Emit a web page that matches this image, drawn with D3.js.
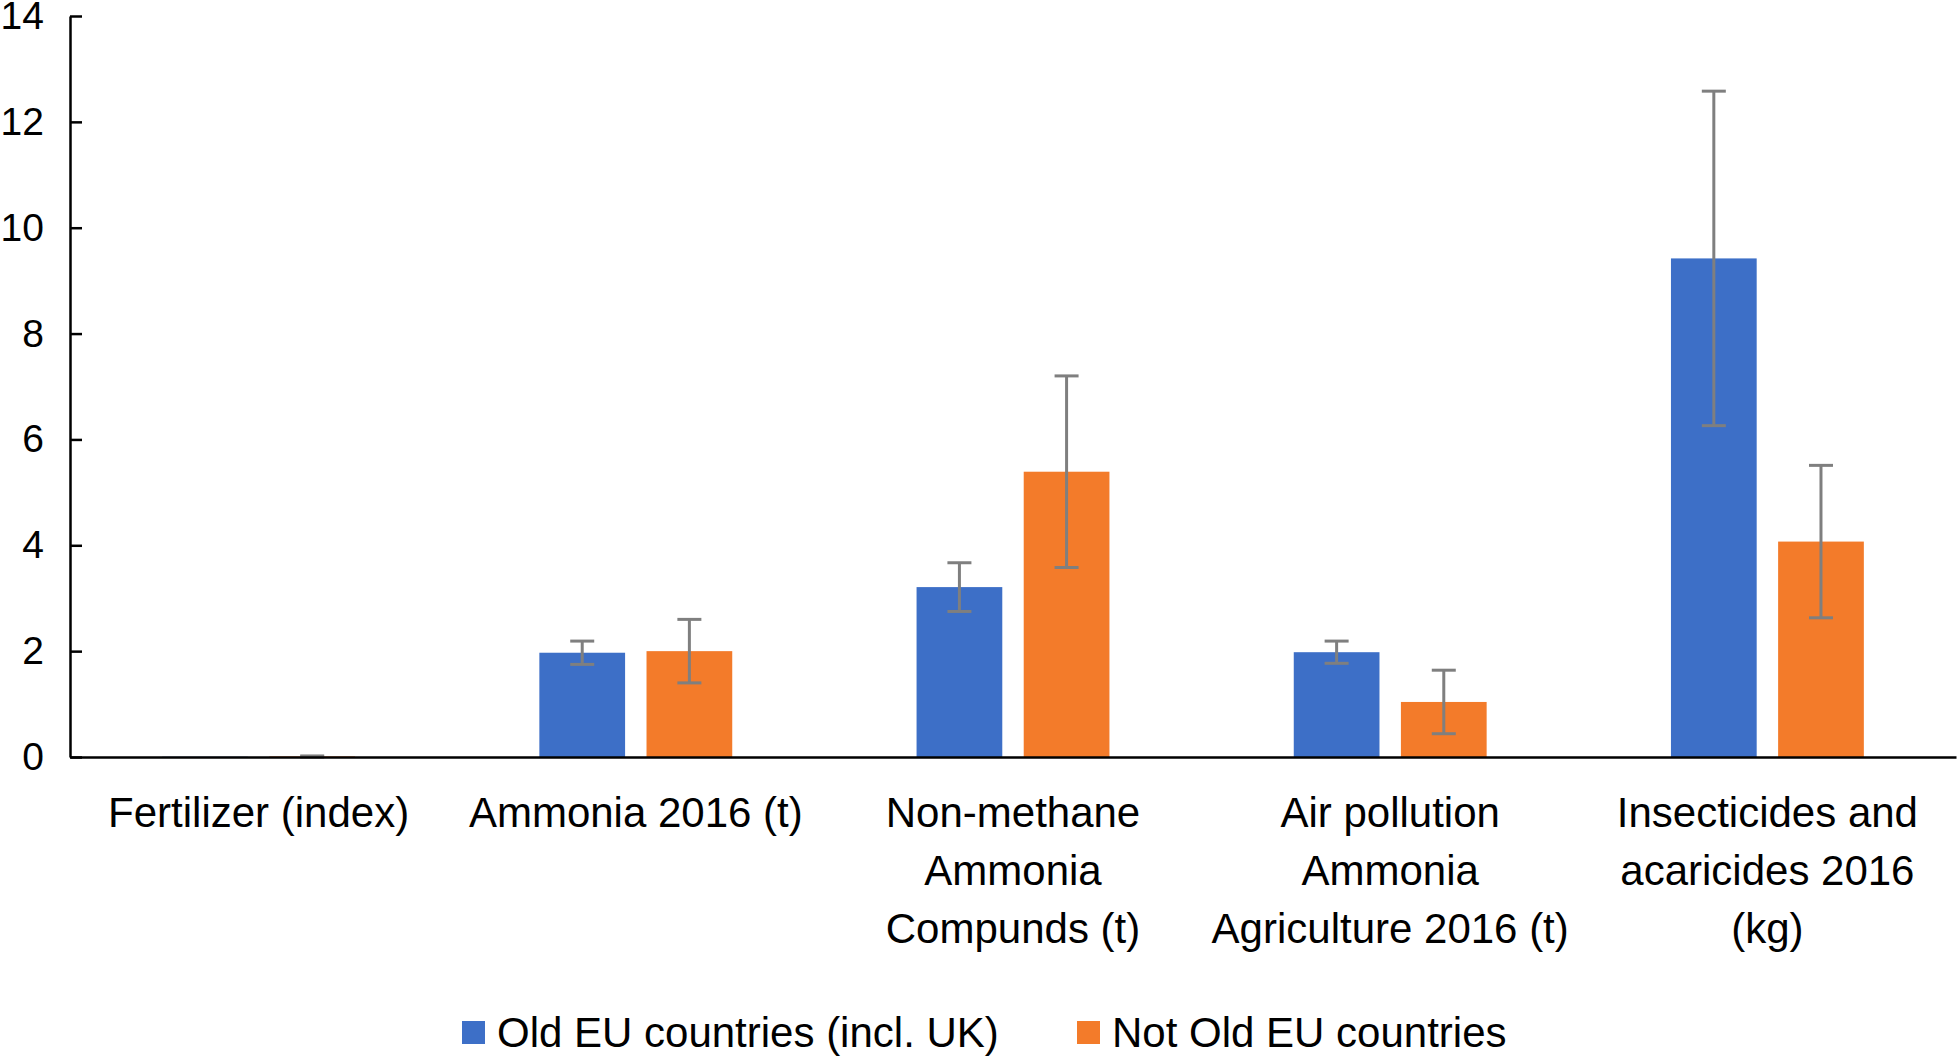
<!DOCTYPE html>
<html>
<head>
<meta charset="utf-8">
<script src="https://cdn.jsdelivr.net/npm/d3@7"></script>
<style>
  body { margin: 0; background: #fff; }
  text { font-family: "Liberation Sans", Arial, sans-serif; fill: #000; }
</style>
</head>
<body>
<svg id="chart" width="1960" height="1060"></svg>
<script>
// categories, each label split into its lines
var categories = [
    ["Fertilizer (index)"],
    ["Ammonia 2016 (t)"],
    ["Non-methane", "Ammonia", "Compunds (t)"],
    ["Air pollution", "Ammonia", "Agriculture 2016 (t)"],
    ["Insecticides and", "acaricides 2016", "(kg)"]
];
var series = ["Old EU countries (incl. UK)", "Not Old EU countries"];
var oldEU = [0.005, 1.97, 3.21, 1.98, 9.42];
var oldEUErr = [0, 0.22, 0.46, 0.21, 3.16];
var notOldEU = [0.01, 2.0, 5.39, 1.04, 4.07];
var notOldEUErr = [0.01, 0.6, 1.81, 0.6, 1.44];
var yTicks = [0, 2, 4, 6, 8, 10, 12, 14];

var colors = ["#3d6fc7", "#f37b2a"];
var FONT = 42;
var TICK_FONT = 39;

var svg = d3.select("#chart");
var plotLeft = 70, plotRight = 1956, plotTop = 16, plotBottom = 757;

var x0 = d3.scaleBand()
    .domain(d3.range(categories.length))
    .range([plotLeft, plotRight]);
var x1 = d3.scaleBand()
    .domain(d3.range(series.length))
    .range([0, x0.bandwidth()])
    .paddingInner(0.2)
    .paddingOuter(0.86);
var y = d3.scaleLinear().domain([0, 14]).range([plotBottom, plotTop]);

// build rows for bars
var rows = [];
categories.forEach(function(c, i) {
    rows.push({cat: i, s: 0, v: oldEU[i], e: oldEUErr[i]});
    rows.push({cat: i, s: 1, v: notOldEU[i], e: notOldEUErr[i]});
});

// bars
svg.append("g").selectAll("rect")
    .data(rows)
    .enter()
    .append("rect")
    .attr("x", function(d) { return x0(d.cat) + x1(d.s); })
    .attr("y", function(d) { return y(d.v); })
    .attr("width", x1.bandwidth())
    .attr("height", function(d) { return y(0) - y(d.v); })
    .attr("fill", function(d) { return colors[d.s]; });

// error bars
var errG = svg.append("g")
    .attr("stroke", "#7f7f7f")
    .attr("stroke-width", 3);
var CAP = 12;
rows.forEach(function(d) {
    if (!d.e) return;
    var cx = x0(d.cat) + x1(d.s) + x1.bandwidth() / 2;
    var hi = y(d.v + d.e), lo = y(Math.max(0, d.v - d.e));
    errG.append("line").attr("x1", cx).attr("x2", cx).attr("y1", hi).attr("y2", lo);
    errG.append("line").attr("x1", cx - CAP).attr("x2", cx + CAP).attr("y1", hi).attr("y2", hi);
    errG.append("line").attr("x1", cx - CAP).attr("x2", cx + CAP).attr("y1", lo).attr("y2", lo);
});

// y axis, ticks pointing inwards
var yAxis = svg.append("g")
    .attr("transform", "translate(" + plotLeft + ",0)")
    .call(d3.axisLeft(y).tickValues(yTicks).tickSizeInner(-12).tickSizeOuter(0).tickPadding(26));
yAxis.selectAll("path, line").attr("stroke", "#000").attr("stroke-width", 2.5);
yAxis.selectAll("text")
    .style("font-size", TICK_FONT + "px")
    .style("font-family", "Liberation Sans, Arial, sans-serif")
    .attr("fill", "#000");

// x axis line
var xAxis = svg.append("g")
    .attr("transform", "translate(0," + plotBottom + ")")
    .call(d3.axisBottom(x0).tickSize(0).tickFormat(""));
xAxis.select(".domain").attr("stroke", "#000").attr("stroke-width", 2.5);

// category labels
var labelG = svg.append("g");
categories.forEach(function(lines, i) {
    var t = labelG.append("text")
        .attr("text-anchor", "middle")
        .style("font-size", FONT + "px");
    lines.forEach(function(line, k) {
        t.append("tspan")
            .attr("x", x0(i) + x0.bandwidth() / 2)
            .attr("y", 827 + k * 58)
            .text(line);
    });
});

// legend
var legendX = [462, 1077];
var legend = svg.append("g");
series.forEach(function(s, i) {
    legend.append("rect")
        .attr("x", legendX[i])
        .attr("y", 1021)
        .attr("width", 23)
        .attr("height", 23)
        .attr("fill", colors[i]);
    legend.append("text")
        .attr("x", legendX[i] + 35)
        .attr("y", 1047)
        .style("font-size", FONT + "px")
        .text(s);
});
</script>
</body>
</html>
